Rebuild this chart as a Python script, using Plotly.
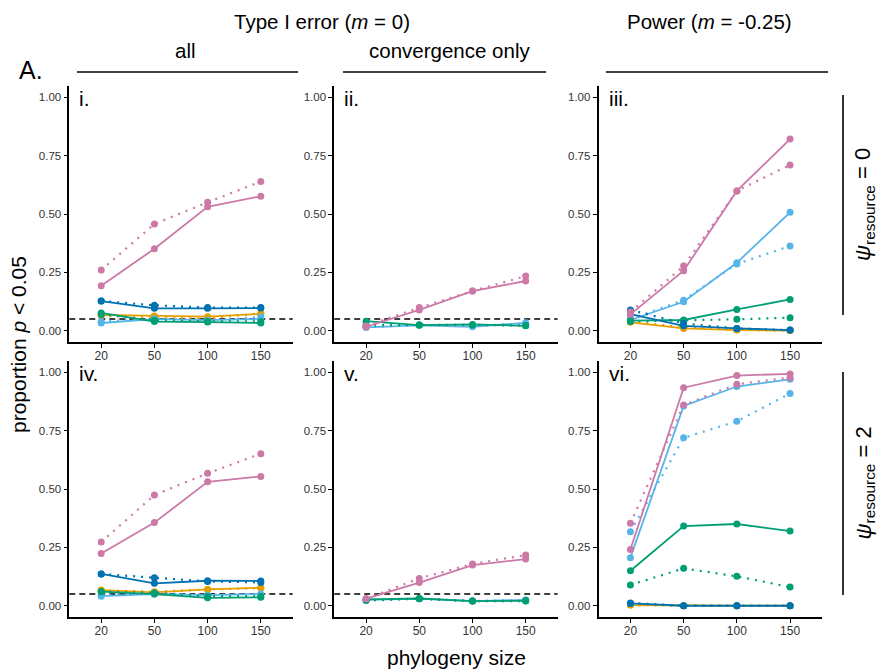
import plotly.graph_objects as go

W, H = 880, 670
sizes = ["20", "50", "100", "150"]

COLORS = {"orange": "#E69F00", "skyblue": "#56B4E9", "green": "#009E73",
          "blue": "#0072B2", "pink": "#CC79A7"}
ORDER = ["orange", "skyblue", "green", "blue", "pink"]

# panel i: Type I error, all, psi=0
p_i = {
    ("orange", "dot"): [0.065, 0.060, 0.052, 0.075],
    ("orange", "solid"): [0.068, 0.063, 0.060, 0.072],
    ("skyblue", "dot"): [0.040, 0.050, 0.040, 0.060],
    ("skyblue", "solid"): [0.033, 0.050, 0.045, 0.050],
    ("green", "dot"): [0.070, 0.045, 0.040, 0.040],
    ("green", "solid"): [0.076, 0.039, 0.037, 0.033],
    ("blue", "dot"): [0.127, 0.109, 0.099, 0.099],
    ("blue", "solid"): [0.127, 0.096, 0.096, 0.097],
    ("pink", "dot"): [0.260, 0.457, 0.550, 0.639],
    ("pink", "solid"): [0.193, 0.351, 0.531, 0.576],
}
# panel ii: Type I error, convergence only, psi=0
p_ii = {
    ("skyblue", "dot"): [0.015, 0.025, 0.022, 0.030],
    ("skyblue", "solid"): [0.014, 0.023, 0.017, 0.034],
    ("green", "dot"): [0.024, 0.025, 0.025, 0.022],
    ("green", "solid"): [0.041, 0.024, 0.027, 0.021],
    ("pink", "dot"): [0.020, 0.099, 0.170, 0.234],
    ("pink", "solid"): [0.017, 0.089, 0.170, 0.213],
}
# panel iii: Power, psi=0
p_iii = {
    ("orange", "dot"): [0.041, 0.014, 0.004, 0.001],
    ("orange", "solid"): [0.036, 0.010, 0.003, 0.001],
    ("skyblue", "dot"): [0.050, 0.131, 0.286, 0.363],
    ("skyblue", "solid"): [0.046, 0.124, 0.291, 0.507],
    ("green", "dot"): [0.040, 0.043, 0.049, 0.056],
    ("green", "solid"): [0.043, 0.046, 0.091, 0.134],
    ("blue", "dot"): [0.089, 0.031, 0.010, 0.003],
    ("blue", "solid"): [0.071, 0.021, 0.010, 0.003],
    ("pink", "dot"): [0.080, 0.277, 0.599, 0.710],
    ("pink", "solid"): [0.070, 0.257, 0.599, 0.821],
}
# panel iv: Type I error, all, psi=2
p_iv = {
    ("orange", "dot"): [0.065, 0.060, 0.070, 0.075],
    ("orange", "solid"): [0.067, 0.057, 0.070, 0.077],
    ("skyblue", "dot"): [0.045, 0.055, 0.045, 0.048],
    ("skyblue", "solid"): [0.041, 0.050, 0.045, 0.050],
    ("green", "dot"): [0.060, 0.055, 0.040, 0.040],
    ("green", "solid"): [0.060, 0.050, 0.034, 0.036],
    ("blue", "dot"): [0.136, 0.120, 0.104, 0.100],
    ("blue", "solid"): [0.136, 0.096, 0.107, 0.106],
    ("pink", "dot"): [0.273, 0.474, 0.567, 0.651],
    ("pink", "solid"): [0.224, 0.356, 0.531, 0.554],
}
# panel v: Type I error, convergence only, psi=2
p_v = {
    ("skyblue", "dot"): [0.025, 0.030, 0.020, 0.025],
    ("skyblue", "solid"): [0.025, 0.030, 0.020, 0.025],
    ("green", "dot"): [0.022, 0.030, 0.020, 0.020],
    ("green", "solid"): [0.027, 0.031, 0.020, 0.021],
    ("pink", "dot"): [0.030, 0.117, 0.179, 0.217],
    ("pink", "solid"): [0.030, 0.099, 0.174, 0.200],
}
# panel vi: Power, psi=2
p_vi = {
    ("orange", "dot"): [0.003, 0.000, 0.000, 0.000],
    ("orange", "solid"): [0.003, 0.000, 0.000, 0.000],
    ("skyblue", "dot"): [0.317, 0.719, 0.790, 0.909],
    ("skyblue", "solid"): [0.206, 0.856, 0.939, 0.970],
    ("green", "dot"): [0.089, 0.160, 0.126, 0.080],
    ("green", "solid"): [0.150, 0.341, 0.350, 0.320],
    ("blue", "dot"): [0.012, 0.000, 0.000, 0.000],
    ("blue", "solid"): [0.010, 0.000, 0.000, 0.000],
    ("pink", "dot"): [0.353, 0.860, 0.949, 0.977],
    ("pink", "solid"): [0.241, 0.934, 0.986, 0.993],
}
panels = [p_i, p_ii, p_iii, p_iv, p_v, p_vi]
panel_labels = ["i.", "ii.", "iii.", "iv.", "v.", "vi."]
ref_line = [True, True, False, True, True, False]
y_ticks = [0.0, 0.25, 0.5, 0.75, 1.0]

FONT = "Liberation Sans, Arial, sans-serif"

# layout geometry in pixels
col_px = [(69.3, 292.7), (334.2, 557.6), (598.5, 822.0)]
row_px = [(85.6, 342.4), (360.6, 617.4)]


def fx(px):
    return px / W


def fy(py):
    return 1 - py / H


fig = go.Figure()
layout = dict(width=W, height=H, margin=dict(l=0, r=0, t=0, b=0),
              plot_bgcolor="white", paper_bgcolor="white", showlegend=False,
              font=dict(family=FONT, color="black"))

shapes = []
annotations = []

for k, data in enumerate(panels):
    r, c = divmod(k, 3)
    idx = k + 1
    xa = "xaxis" if idx == 1 else f"xaxis{idx}"
    ya = "yaxis" if idx == 1 else f"yaxis{idx}"
    xr = "x" if idx == 1 else f"x{idx}"
    yr = "y" if idx == 1 else f"y{idx}"
    layout[xa] = dict(domain=[fx(col_px[c][0]), fx(col_px[c][1])], anchor=yr,
                      type="category", categoryorder="array", categoryarray=sizes,
                      range=[-0.6, 3.6], showline=True, linecolor="black", linewidth=1.6,
                      ticks="outside", ticklen=4, tickwidth=1.2, tickcolor="black",
                      ticklabelstandoff=-3,
                      tickfont=dict(size=12, color="#333333", family=FONT),
                      showgrid=False, zeroline=False, fixedrange=True)
    layout[ya] = dict(domain=[fy(row_px[r][1]), fy(row_px[r][0])], anchor=xr,
                      range=[-0.05, 1.05], tickvals=y_ticks, tickformat=".2f",
                      showline=True, linecolor="black", linewidth=1.6,
                      ticks="outside", ticklen=4, tickwidth=1.2, tickcolor="black",
                      tickfont=dict(size=11.5, color="#333333", family=FONT),
                      showgrid=False, zeroline=False, fixedrange=True)
    if ref_line[k]:
        shapes.append(dict(type="line", xref=f"{xr} domain", yref=yr, x0=0, x1=1,
                           y0=0.05, y1=0.05, layer="below",
                           line=dict(color="black", width=1.6, dash="6px,4px")))
    for col in ORDER:
        for style in ["dot", "solid"]:
            key = (col, style)
            if key not in data:
                continue
            fig.add_trace(go.Scatter(
                x=sizes, y=data[key], xaxis=xr, yaxis=yr, mode="lines+markers",
                line=dict(color=COLORS[col], width=1.8 if style == "solid" else 2.2,
                          dash="solid" if style == "solid" else "2px,6px"),
                marker=dict(color=COLORS[col], size=7), hoverinfo="skip"))
    annotations.append(dict(text=panel_labels[k], xref="paper", yref="paper",
                            x=fx(col_px[c][0] + 8), y=fy(row_px[r][0] + 13),
                            xanchor="left", yanchor="middle", showarrow=False,
                            font=dict(size=21, family=FONT, color="black")))

# column strips
annotations += [
    dict(text="Type I error (<i>m</i> = 0)", x=fx(322), y=fy(21)),
    dict(text="Power (<i>m</i> = -0.25)", x=fx(709), y=fy(21)),
    dict(text="all", x=fx(185), y=fy(51)),
    dict(text="convergence only", x=fx(449), y=fy(51)),
]
for a in annotations[-4:]:
    a.update(xref="paper", yref="paper", xanchor="center", yanchor="middle",
             showarrow=False, font=dict(size=20.5, family=FONT, color="black"))

annotations.append(dict(text="A.", xref="paper", yref="paper", x=fx(17), y=fy(70),
                        xanchor="left", yanchor="middle", showarrow=False,
                        font=dict(size=25, family=FONT, color="black")))

for x0, x1 in [(77, 298), (343, 546), (606, 828)]:
    shapes.append(dict(type="line", xref="paper", yref="paper", x0=fx(x0), x1=fx(x1),
                       y0=fy(72), y1=fy(72), line=dict(color="black", width=1.6)))

# row strips
for (y0, y1), val in [((95, 315), "0"), ((372, 595), "2")]:
    shapes.append(dict(type="line", xref="paper", yref="paper", x0=fx(843), x1=fx(843),
                       y0=fy(y0), y1=fy(y1), line=dict(color="black", width=1.6)))
    annotations.append(dict(
        text=f"<i>ψ</i><sub>resource</sub> = {val}",
        xref="paper", yref="paper", x=fx(864), y=fy((y0 + y1) / 2),
        xanchor="center", yanchor="middle", textangle=-90,
        showarrow=False, font=dict(size=22, family=FONT, color="black")))

# axis titles
annotations.append(dict(text="proportion <i>p</i> < 0.05", xref="paper", yref="paper",
                        x=fx(18), y=fy(345), xanchor="center", yanchor="middle",
                        textangle=-90, showarrow=False,
                        font=dict(size=21, family=FONT, color="black")))
annotations.append(dict(text="phylogeny size", xref="paper", yref="paper",
                        x=fx(456), y=fy(657), xanchor="center", yanchor="middle",
                        showarrow=False, font=dict(size=21, family=FONT, color="black")))

layout["shapes"] = shapes
layout["annotations"] = annotations
fig.update_layout(**layout)
fig.write_html("out.html")
